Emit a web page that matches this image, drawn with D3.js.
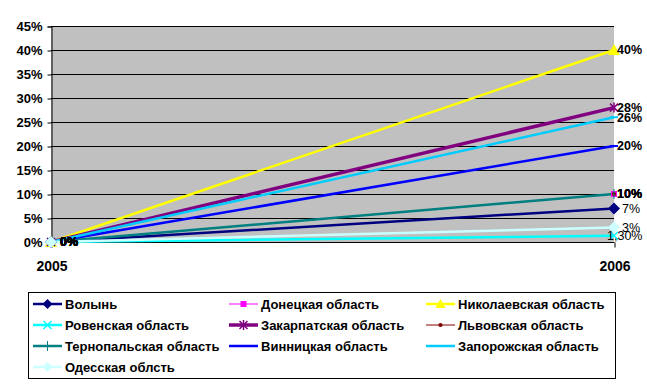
<!DOCTYPE html>
<html>
<head>
<meta charset="utf-8">
<script src="https://cdn.jsdelivr.net/npm/d3@7"></script>
<style>
  body { margin: 0; background: #fff; }
  text { font-family: "Liberation Sans", Arial, sans-serif; }
</style>
</head>
<body>
<svg width="647" height="387"></svg>
<script>
// данные
var years = ["2005", "2006"];
var regions = ["Волынь", "Донецкая область", "Николаевская область", "Ровенская область",
    "Закарпатская область", "Львовская область", "Тернопальская область", "Винницкая область",
    "Запорожская область", "Одесская облсть"];
var start2005 = [0, 0, 0, 0, 0, 0, 0, 0, 0, 0];
var end2006 = [0.07, 0.10, 0.40, 0.013, 0.28, 0.10, 0.10, 0.20, 0.26, 0.03];
var yTicks = [0, 0.05, 0.10, 0.15, 0.20, 0.25, 0.30, 0.35, 0.40, 0.45];

// оформление серий
var colors = ["#000080", "#FF00FF", "#FFFF00", "#00FFFF", "#800080", "#800000", "#008080", "#0000FF", "#00CCFF", "#CCFFFF"];
var markers = ["diamond", "square", "triangle", "x", "star", "circle", "plus", "dash", "dash", "diamond"];
var widths = [2.5, 1, 2.5, 2.5, 3.5, 1, 2.5, 2.5, 2.5, 2.5];
var boldLabel = [false, true, true, false, true, true, true, true, true, false];

var svg = d3.select("svg");
var x = d3.scalePoint().domain(years).range([51, 614]);
var y = d3.scaleLinear().domain([0, 0.45]).range([242, 26]);

var locale = d3.formatLocale({ decimal: ",", thousands: " ", grouping: [3], currency: ["", ""] });
var pct = locale.format(".0%");
var pct2 = locale.format(".2%");

// фон области построения
svg.append("rect").attr("x", 51).attr("y", 26).attr("width", 563).attr("height", 216).attr("fill", "#C0C0C0");

// сетка
svg.selectAll("line.grid").data(yTicks).enter().append("line")
    .attr("x1", 51).attr("x2", 614)
    .attr("y1", function (d) { return Math.round(y(d)) + 0.5; })
    .attr("y2", function (d) { return Math.round(y(d)) + 0.5; })
    .attr("stroke", "#000").attr("stroke-width", 1);

// ось Y
var yAxis = d3.axisLeft(y).tickValues(yTicks).tickFormat(pct).tickSize(4).tickPadding(5);
var gy = svg.append("g").attr("transform", "translate(51.5,0.5)").call(yAxis);
gy.select(".domain").attr("stroke", "#000");
gy.selectAll("text").attr("font-size", 13).attr("font-weight", "bold").attr("fill", "#000")
    .attr("font-family", "Liberation Sans, Arial, sans-serif");

// ось X
var xAxis = d3.axisBottom(x).tickSize(5).tickPadding(14);
var gx = svg.append("g").attr("transform", "translate(0.5,242.5)").call(xAxis);
gx.select(".domain").attr("stroke", "#000").attr("d", "M51,0H614");
gx.selectAll("text").attr("font-size", 14).attr("font-weight", "bold").attr("fill", "#000")
    .attr("font-family", "Liberation Sans, Arial, sans-serif");

function markerPath(type, s) {
    if (type == "diamond") return "M0,-" + s + "L" + s + ",0L0," + s + "L-" + s + ",0Z";
    if (type == "square") return "M-3,-3h6v6h-6Z";
    if (type == "triangle") return "M0,-" + s + "L" + s + "," + (s - 1) + "L-" + s + "," + (s - 1) + "Z";
    if (type == "circle") return d3.symbol(d3.symbolCircle, 14)();
    if (type == "dash") return "M-4,-1h8v2h-8Z";
    return null;
}

function drawMarker(g, type, color, cx, cy, size) {
    var s = size || 5;
    if (type == "x") {
        g.append("path").attr("d", "M" + (cx - 4) + "," + (cy - 4) + "L" + (cx + 4) + "," + (cy + 4) + "M" + (cx - 4) + "," + (cy + 4) + "L" + (cx + 4) + "," + (cy - 4))
            .attr("stroke", color).attr("stroke-width", 1.5).attr("fill", "none");
    } else if (type == "star") {
        g.append("path").attr("d", "M" + (cx - 4) + "," + (cy - 4) + "L" + (cx + 4) + "," + (cy + 4) + "M" + (cx - 4) + "," + (cy + 4) + "L" + (cx + 4) + "," + (cy - 4) + "M" + cx + "," + (cy - 5) + "V" + (cy + 5))
            .attr("stroke", color).attr("stroke-width", 1.5).attr("fill", "none");
    } else if (type == "plus") {
        g.append("path").attr("d", "M" + cx + "," + (cy - 5) + "V" + (cy + 5))
            .attr("stroke", color).attr("stroke-width", 1).attr("fill", "none");
    } else {
        g.append("path").attr("d", markerPath(type, s)).attr("transform", "translate(" + cx + "," + cy + ")")
            .attr("fill", color).attr("stroke", "none");
    }
}

// линии
var series = regions.map(function (name, i) {
    return { name: name, i: i, values: [{ year: years[0], v: start2005[i] }, { year: years[1], v: end2006[i] }] };
});
var line = d3.line().x(function (d) { return x(d.year); }).y(function (d) { return y(d.v); });

var gLines = svg.append("g");
series.forEach(function (s) {
    gLines.append("path").datum(s.values).attr("d", line)
        .attr("fill", "none").attr("stroke", colors[s.i]).attr("stroke-width", widths[s.i]);
});

// маркеры
var gMarks = svg.append("g");
series.forEach(function (s) {
    s.values.forEach(function (d) {
        drawMarker(gMarks, markers[s.i], colors[s.i], x(d.year), y(d.v), 6);
    });
});

// подписи данных
var gLabels = svg.append("g");
series.forEach(function (s) {
    s.values.forEach(function (d, k) {
        var txt = s.i == 3 && d.v > 0 ? pct2(d.v) : pct(d.v);
        var lx = x(d.year) + (k == 0 ? 9 : (boldLabel[s.i] ? 3 : 8));
        if (txt.length > 4) lx = x(d.year) - 7;
        gLabels.append("text").attr("x", lx).attr("y", y(d.v)).attr("dy", "0.35em")
            .attr("font-size", 12.5).attr("font-weight", boldLabel[s.i] || k == 0 ? "bold" : "normal")
            .attr("fill", "#000").text(txt);
    });
});

// легенда
svg.append("rect").attr("x", 28.5).attr("y", 292.5).attr("width", 587).attr("height", 86)
    .attr("fill", "#fff").attr("stroke", "#000").attr("stroke-width", 1);
var colX = [33, 229, 426];
var rowY = [304, 325, 346, 367];
regions.forEach(function (name, i) {
    var lx = colX[i % 3], ly = rowY[Math.floor(i / 3)];
    var g = svg.append("g");
    g.append("line").attr("x1", lx).attr("x2", lx + 29).attr("y1", ly).attr("y2", ly)
        .attr("stroke", colors[i]).attr("stroke-width", widths[i]);
    drawMarker(g, markers[i], colors[i], lx + 14.5, ly, 5);
    g.append("text").attr("x", lx + 32).attr("y", ly).attr("dy", "0.35em")
        .attr("font-size", 13).attr("font-weight", "bold").attr("fill", "#000").text(name);
});
</script>
</body>
</html>
